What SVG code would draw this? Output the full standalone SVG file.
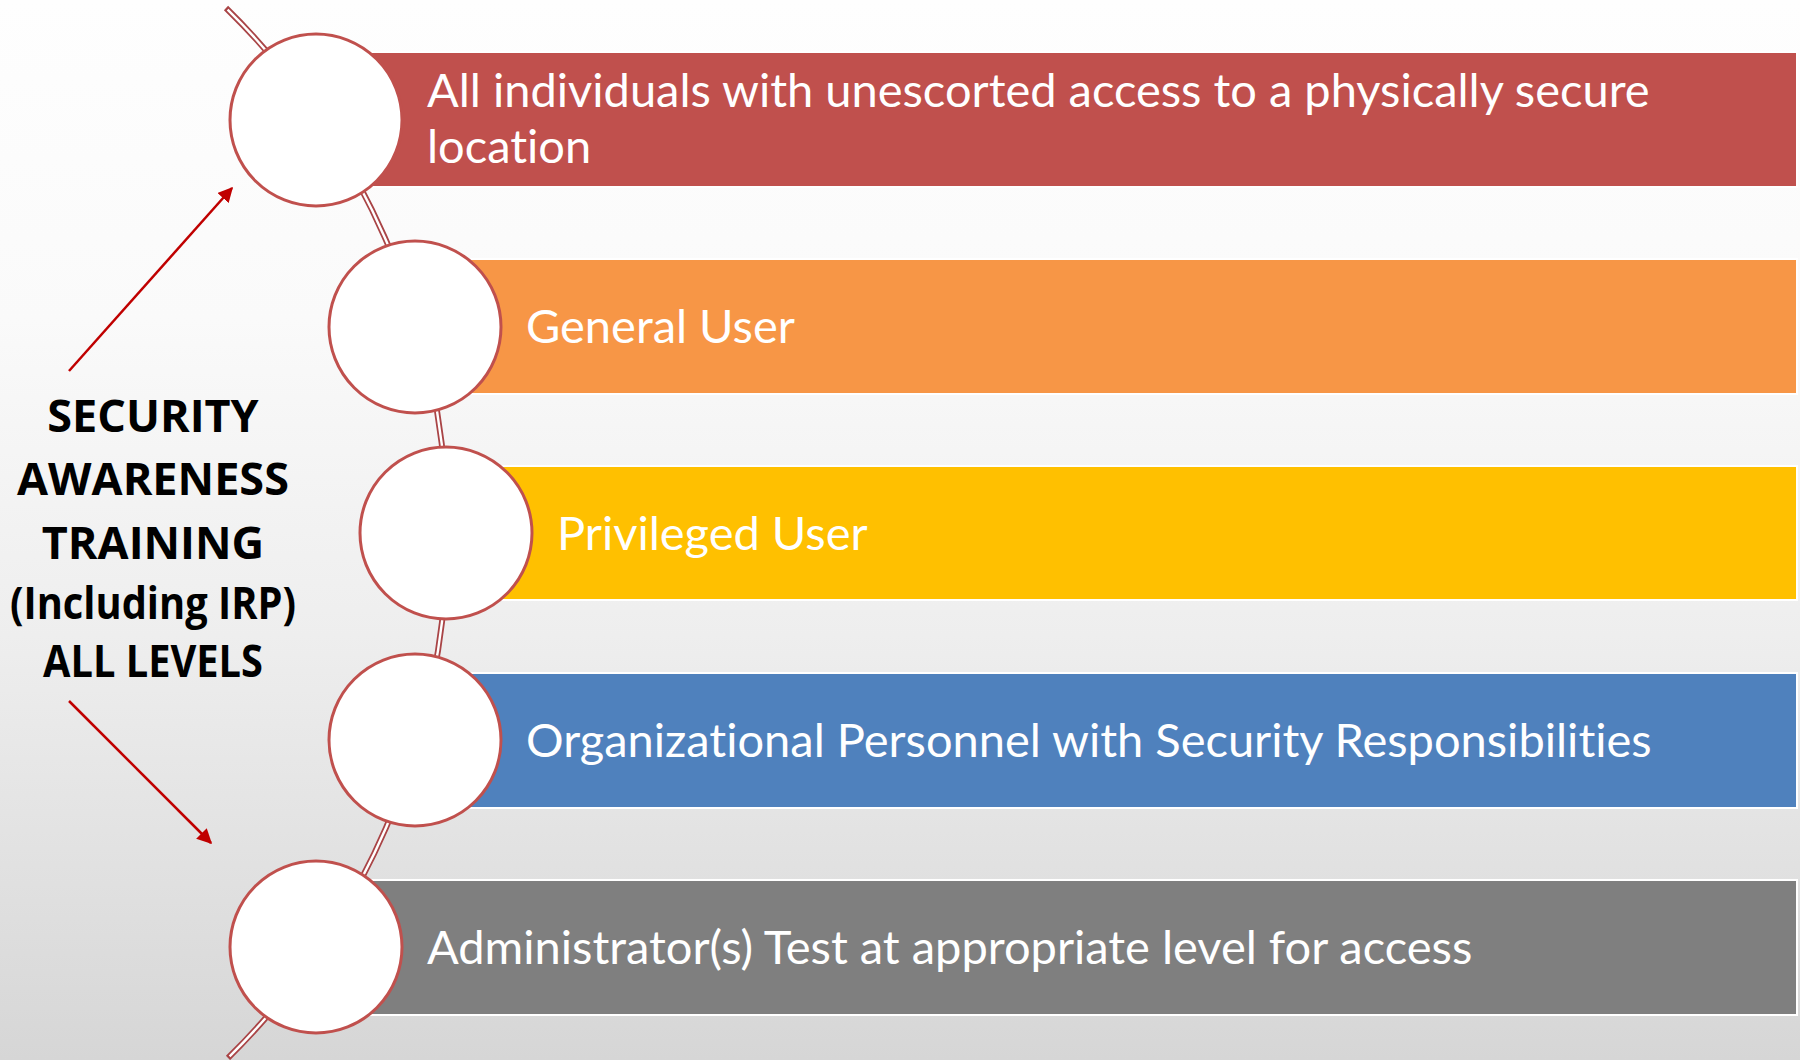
<svg xmlns="http://www.w3.org/2000/svg" width="1800" height="1060" viewBox="0 0 1800 1060">
  <defs>
    <linearGradient id="bg" x1="0" y1="0" x2="0" y2="1">
      <stop offset="0" stop-color="#fefefe"/>
      <stop offset="0.3" stop-color="#fafafa"/>
      <stop offset="0.6" stop-color="#eeeeee"/>
      <stop offset="1" stop-color="#d6d6d6"/>
    </linearGradient>
    <marker id="arrowhead" viewBox="0 0 10 10" refX="9" refY="5" markerWidth="6" markerHeight="6" markerUnits="strokeWidth" orient="auto">
      <path d="M0,0 L10,5 L0,10 Z" fill="#c00000"/>
    </marker>
    <style>
      .bar { stroke: #ffffff; stroke-width: 2; }
      .dot { fill: #ffffff; stroke: #c0504d; stroke-width: 3; }
      .label { font-family: "Lato", "Open Sans", sans-serif; font-size: 47px; fill: #ffffff; font-variant-ligatures: none; }
      .title { font-family: "Open Sans", "Liberation Sans", sans-serif; font-weight: bold; font-size: 45px; fill: #000000; text-anchor: middle; }
      .rail-outer { fill: none; stroke: #a94446; stroke-width: 6; }
      .rail-inner { fill: none; stroke: #ffffff; stroke-width: 2.4; }
      .pointer { stroke: #c00000; stroke-width: 2.5; fill: none; marker-end: url(#arrowhead); }
    </style>
  </defs>

  <rect x="0" y="0" width="1800" height="1060" fill="url(#bg)"/>

  <!-- curved rail linking the level markers, plus the two pointers -->
  <g id="connectors">
    <path class="rail-outer" d="M 226 8 A 736 736 0 0 1 228 1058"/>
    <path class="rail-inner" d="M 227.6 9.6 A 736 736 0 0 1 229.6 1056.4"/>
    <line class="pointer" x1="69" y1="371" x2="232" y2="188"/>
    <line class="pointer" x1="69" y1="701" x2="211" y2="843"/>
  </g>

  <g id="level-1">
    <rect class="bar" x="316" y="52" width="1481" height="135" fill="#c0504d"/>
    <circle class="dot" cx="316" cy="120" r="86"/>
    <text class="label" x="427" y="107">All individuals with unescorted access to a physically secure</text>
    <text class="label" x="427" y="163">location</text>
  </g>

  <g id="level-2">
    <rect class="bar" x="415" y="259" width="1382" height="135" fill="#f79646"/>
    <circle class="dot" cx="415" cy="327" r="86"/>
    <text class="label" x="526" y="343">General User</text>
  </g>

  <g id="level-3">
    <rect class="bar" x="446" y="466" width="1351" height="134" fill="#ffc000"/>
    <circle class="dot" cx="446" cy="533" r="86"/>
    <text class="label" x="557" y="550">Privileged User</text>
  </g>

  <g id="level-4">
    <rect class="bar" x="415" y="673" width="1382" height="135" fill="#4f81bd"/>
    <circle class="dot" cx="415" cy="740" r="86"/>
    <text class="label" x="526" y="757">Organizational Personnel with Security Responsibilities</text>
  </g>

  <g id="level-5">
    <rect class="bar" x="316" y="880" width="1481" height="135" fill="#7f7f7f"/>
    <circle class="dot" cx="316" cy="947" r="86"/>
    <text class="label" x="427" y="964">Administrator(s) Test at appropriate level for access</text>
  </g>

  <g id="title">
    <text class="title" x="153" y="432">SECURITY</text>
    <text class="title" x="153" y="495">AWARENESS</text>
    <text class="title" x="153" y="559">TRAINING</text>
    <text class="title" x="153" y="619" textLength="286" lengthAdjust="spacingAndGlyphs">(Including IRP)</text>
    <text class="title" x="153" y="677" textLength="220" lengthAdjust="spacingAndGlyphs">ALL LEVELS</text>
  </g>
</svg>
